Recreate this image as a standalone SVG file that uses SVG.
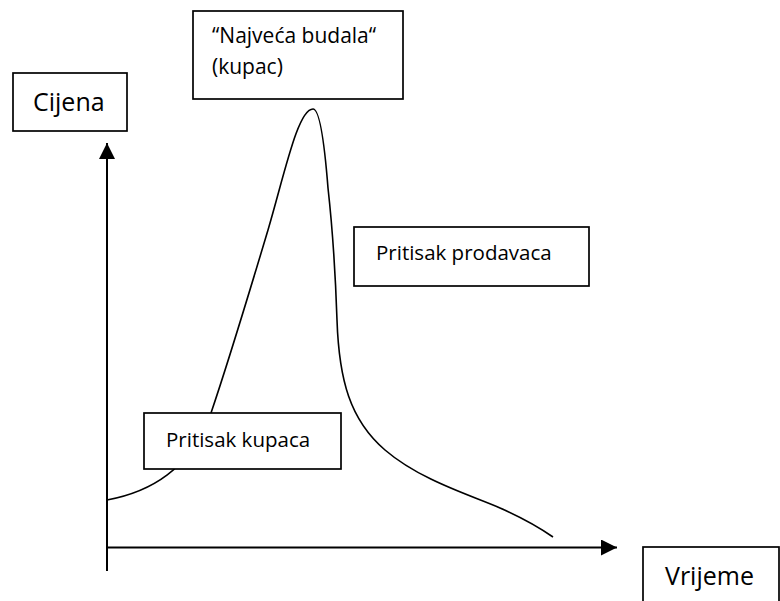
<svg xmlns="http://www.w3.org/2000/svg" width="780" height="601" viewBox="0 0 780 601">
  <style>
    .box { fill: #ffffff; stroke: #000000; stroke-width: 1.7; }
    .lbl { font-family: "Open Sans", "Noto Sans", sans-serif; fill: #000000; }
    .axis { stroke: #000000; stroke-width: 2; fill: none; }
    .curve { stroke: #000000; stroke-width: 1.6; fill: none; }
  </style>
  <defs>
    <marker id="arrow" viewBox="0 0 16 16" refX="16" refY="8" markerWidth="16" markerHeight="16" markerUnits="userSpaceOnUse" orient="auto">
      <path d="M0,0 L16,8 L0,16 Z" fill="#000000"/>
    </marker>
  </defs>
  <rect width="780" height="601" fill="#ffffff"/>

  <g id="connectors">
    <line class="axis" x1="107" y1="571" x2="107" y2="143" marker-end="url(#arrow)"/>
    <line class="axis" x1="106" y1="547.5" x2="617" y2="547.5" marker-end="url(#arrow)"/>
    <path id="price-curve" class="curve" d="M107,500 C150,492 190,470 211,413 C230,357 250,290 268,230 C285,172 298,109 313,109 C320,109 325,150 328,188 C331,215 335,260 337,320 C339,380 350,420 385,450 C420,480 470,495 500,508 C525,519 540,528 553,537"/>
  </g>

  <g id="node-cijena">
    <rect class="box" x="13" y="73" width="114" height="58"/>
    <text class="lbl" x="33" y="111" font-size="25">Cijena</text>
  </g>

  <g id="node-budala">
    <rect class="box" x="193" y="11" width="210" height="88"/>
    <text class="lbl" x="212" y="43" font-size="21">“Najveća budala“</text>
    <text class="lbl" x="212" y="74" font-size="21">(kupac)</text>
  </g>

  <g id="node-prodavaca">
    <rect class="box" x="354" y="227" width="235" height="59"/>
    <text class="lbl" x="376" y="260" font-size="20.5">Pritisak prodavaca</text>
  </g>

  <g id="node-kupaca">
    <rect class="box" x="144" y="413" width="197" height="56"/>
    <text class="lbl" x="166" y="447" font-size="20.5">Pritisak kupaca</text>
  </g>

  <g id="node-vrijeme">
    <rect class="box" x="643" y="547" width="136" height="70"/>
    <text class="lbl" x="665" y="585" font-size="25">Vrijeme</text>
  </g>
</svg>
